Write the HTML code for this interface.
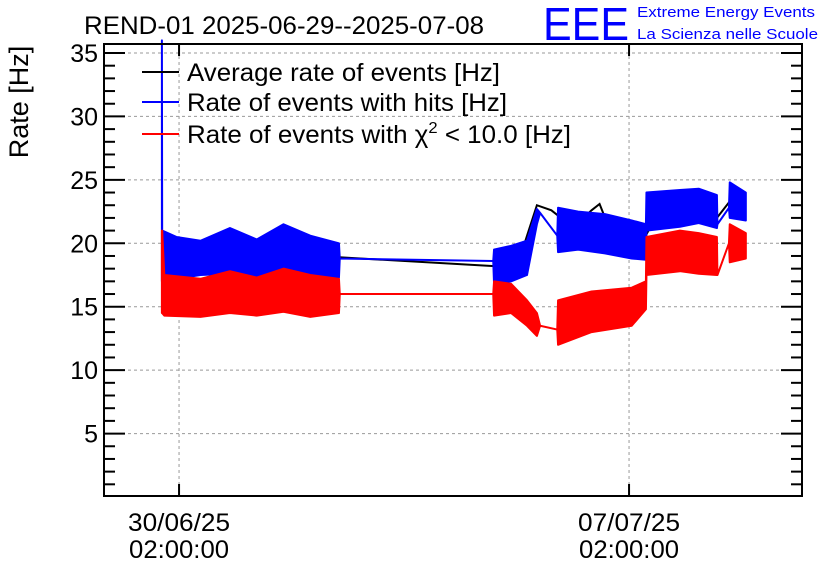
<!DOCTYPE html>
<html><head><meta charset="utf-8"><style>
body{margin:0;background:#fff;}
svg{display:block;font-family:"Liberation Sans",sans-serif;}
</style></head><body>
<svg id="chart" width="836" height="572" viewBox="0 0 836 572">
<text x="84" y="34" font-size="25" textLength="400" lengthAdjust="spacingAndGlyphs">REND-01 2025-06-29--2025-07-08</text>
<text x="543" y="40" font-size="46" fill="#0000ff" textLength="86" lengthAdjust="spacingAndGlyphs">EEE</text>
<text x="637" y="17" font-size="15" fill="#0000ff" textLength="178" lengthAdjust="spacingAndGlyphs">Extreme Energy Events</text>
<text x="637" y="39" font-size="15" fill="#0000ff" textLength="181" lengthAdjust="spacingAndGlyphs">La Scienza nelle Scuole</text>
<text transform="translate(28,102) rotate(-90)" font-size="27" text-anchor="middle">Rate [Hz]</text>
<g id="grid"></g>
<g id="series"></g>
<g id="axes"></g>
<g id="legend"></g>
</svg>
<script>
const yTicks=[5,10,15,20,25,30,35];
const xTickHours=[26,194];
const xTickLabels=[["30/06/25","02:00:00"],["07/07/25","02:00:00"]];
// time in hours since 2025-06-29 00:00
const blueT=[19.6,19.7,25,34,45,55,65,75,85.7,86,143.3,143.6,150,155.9,159.6,160.8,167.2,167.5,175,185,195,200.3,200.5,213,220,226.8,227,231.3,231.6,237.6];
const blueLo=[17,17.2,17.2,17.5,17.6,17.4,17.5,17.3,17.3,18.8,18.6,16.8,17,17.5,21.5,22.4,20.6,19.3,19.5,19.2,18.8,18.7,21,21.3,21.6,21.2,21.5,22.8,22,21.8];
const blueHi=[36,21,20.5,20.2,21.2,20.3,21.5,20.6,20,18.8,18.6,19.5,19.8,20.2,22.7,22.4,20.6,22.8,22.5,22.3,21.8,21.5,24,24.2,24.3,23.8,21.5,22.8,24.8,24];
const redT=[19.6,19.7,20.5,34,45,55,65,75,85.7,86,143.3,143.6,150,155.9,159.6,160.8,167.2,167.5,180,195,200.3,200.5,213,220,226.8,227,231.3,231.6,237.6];
const redLo=[14.5,14.5,14.3,14.2,14.5,14.3,14.6,14.2,14.5,16,16,14.3,14.5,13.5,12.7,13.5,13.2,12,13,13.5,14.8,17.5,17.8,17.6,17.5,17.5,20,18.5,18.8];
const redHi=[21,21,17.5,17.2,17.8,17.3,18,17.5,17.2,16,16,17,16.8,15.5,14.5,13.5,13.2,15.5,16.2,16.5,17,20.5,21,20.8,20.5,17.5,20,21.5,20.8];
const avgT=[19.6,40,85.7,143.6,150,155,159.6,165,168,172,176,180,183,186,195,200,205,215,226.8,231.6,237];
const avgV=[18.5,18.7,18.9,18.2,18.5,20,23,22.6,22.1,22.3,21.8,22.6,23.1,21.5,20.8,20.5,22.5,22.6,22,23.3,23];

const L=104,R=802,T=44,B=496;
const X=t=>109.4+t*(450/168);
const Y=v=>497-v*(444/35);
const NS='http://www.w3.org/2000/svg';
function mk(parent,tag,attrs){const e=document.createElementNS(NS,tag);for(const k in attrs)e.setAttribute(k,attrs[k]);parent.appendChild(e);return e;}
const grid=document.getElementById('grid'),ser=document.getElementById('series'),ax=document.getElementById('axes'),leg=document.getElementById('legend');
yTicks.forEach(v=>{const l=mk(grid,'line',{x1:L,x2:R,y1:Y(v),y2:Y(v),stroke:'#999','stroke-dasharray':'3,3','stroke-width':1});

});
xTickHours.forEach(h=>{const l=mk(grid,'line',{x1:X(h),x2:X(h),y1:T,y2:B,stroke:'#999','stroke-dasharray':'3,3','stroke-width':1});

});
function band(ts,lo,hi,color,name){
  let pts=ts.map((t,i)=>X(t)+','+Y(hi[i]));
  for(let i=ts.length-1;i>=0;i--)pts.push(X(ts[i])+','+Y(lo[i]));
  const p=mk(ser,'polygon',{points:pts.join(' '),fill:color,stroke:color,'stroke-width':2,'stroke-linejoin':'round'});
  
  
}
const al=mk(ser,'polyline',{points:avgT.map((t,i)=>X(t)+','+Y(avgV[i])).join(' '),fill:'none',stroke:'#000','stroke-width':2});


band(blueT,blueLo,blueHi,'#0000ff','hits-rate-band');
band(redT,redLo,redHi,'#ff0000','chi2-rate-band');
const fr=mk(ax,'rect',{x:L,y:T,width:R-L,height:B-T,fill:'none',stroke:'#000','stroke-width':2});


for(let v=1;v<=35;v++){const big=v%5===0,len=big?21:11;
  [[L,L+len],[R,R-len]].forEach(([a,b])=>{const t=mk(ax,'line',{x1:a,x2:b,y1:Y(v),y2:Y(v),stroke:'#000','stroke-width':2});
  
  });}
yTicks.forEach(v=>{const t=mk(ax,'text',{x:98,y:Y(v)+9,'font-size':25,'text-anchor':'end'});t.textContent=v;

});
xTickHours.forEach((h,i)=>{
  [[B,B-12],[T,T+12]].forEach(([a,b])=>{const t=mk(ax,'line',{x1:X(h),x2:X(h),y1:a,y2:b,stroke:'#000','stroke-width':2});
  
  });
  xTickLabels[i].forEach((s,j)=>{const t=mk(ax,'text',{x:X(h),y:531+j*27,'font-size':25,'text-anchor':'middle',textLength:(j?100:102),lengthAdjust:'spacingAndGlyphs'});t.textContent=s;
  
  });
});
const items=[['#000','Average rate of events [Hz]',72,313],['#0000ff','Rate of events with hits [Hz]',102,320],['#ff0000',null,134,384]];
items.forEach(([c,s,y,w])=>{
  const l=mk(leg,'line',{x1:142,x2:179,y1:y,y2:y,stroke:c,'stroke-width':2});
  
  
  const t=mk(leg,'text',{x:187,y:y+9,'font-size':25,textLength:w,lengthAdjust:'spacingAndGlyphs'});
  if(s)t.textContent=s;else t.innerHTML='Rate of events with χ<tspan dy="-10" font-size="16">2</tspan><tspan dy="10"> &lt; 10.0 [Hz]</tspan>';
  
  
});
</script>
</body></html>
